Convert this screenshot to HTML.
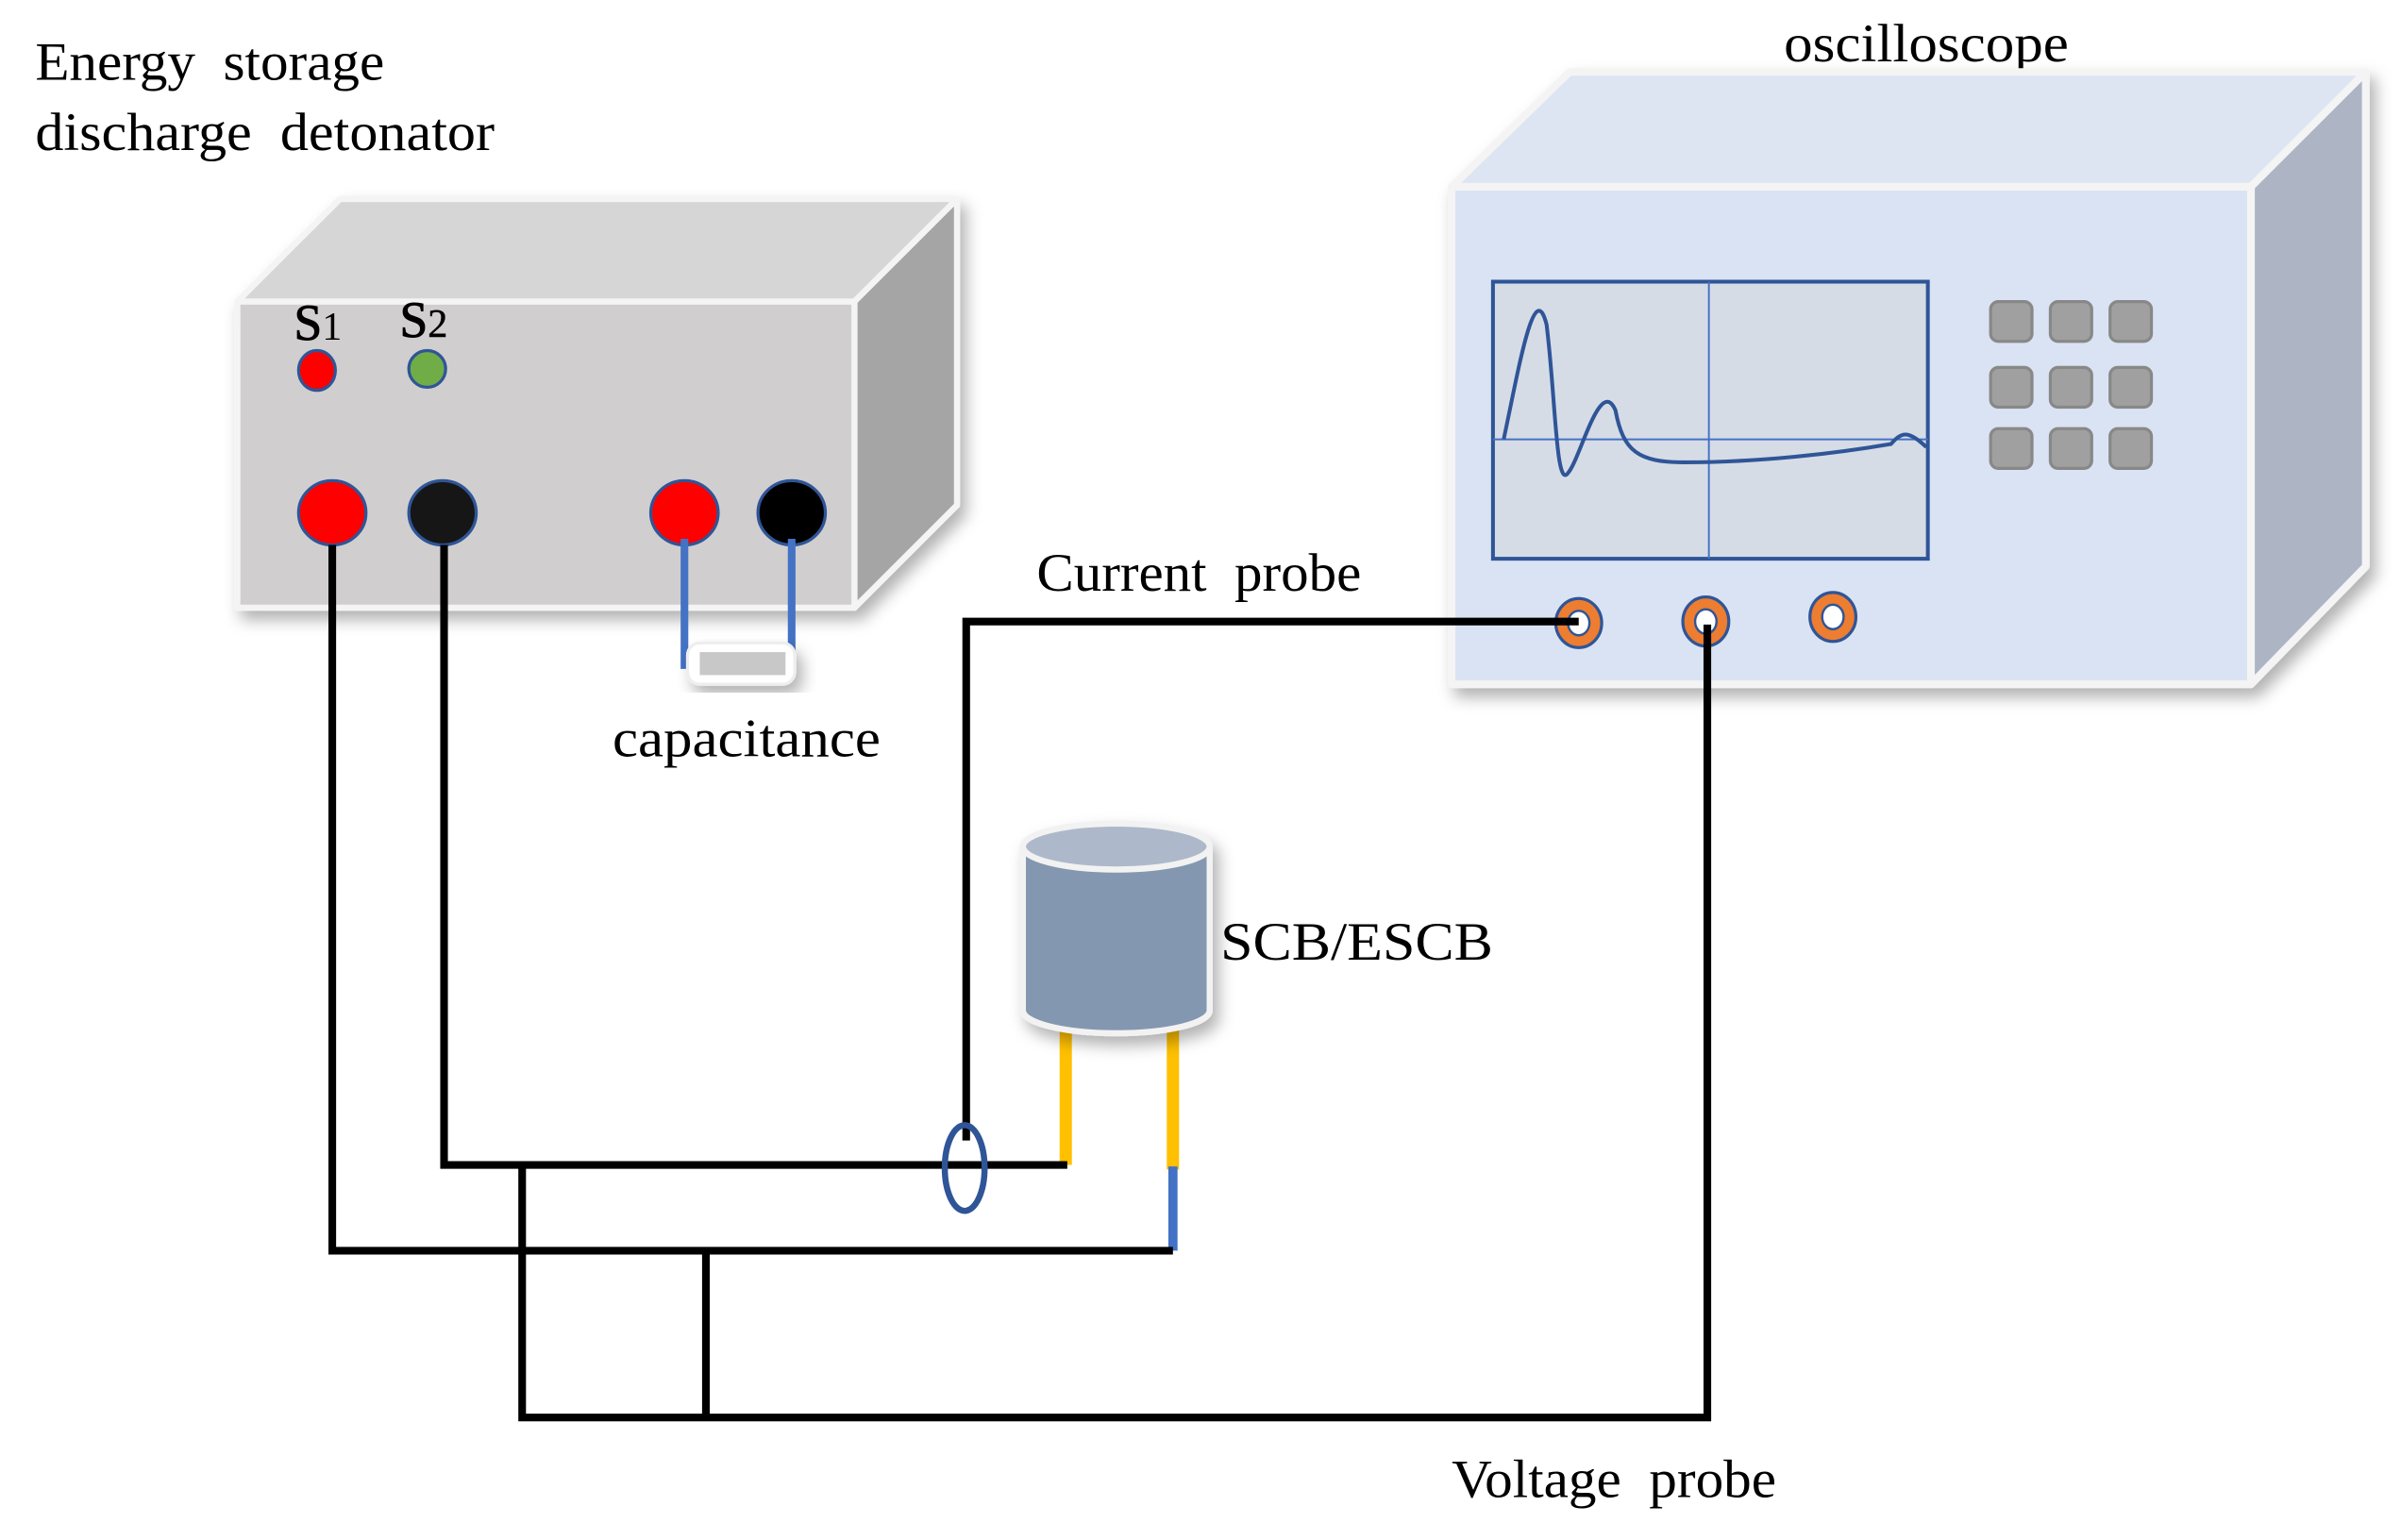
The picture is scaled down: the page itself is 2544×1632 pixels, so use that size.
<!DOCTYPE html>
<html><head><meta charset="utf-8"><style>html,body{margin:0;padding:0;background:#fff}svg{display:block}</style></head>
<body>
<svg width="2544" height="1632" viewBox="0 0 1568 1006" preserveAspectRatio="none" xmlns="http://www.w3.org/2000/svg" font-family="Liberation Serif, serif">
<defs><filter id="sh" x="-10%" y="-10%" width="130%" height="130%"><feDropShadow dx="4" dy="6" stdDeviation="5" flood-color="#000" flood-opacity="0.3"/></filter></defs>
<rect width="1568" height="1006" fill="#fff"/>
<g font-size="35" fill="#000">
<text x="23" y="52" textLength="228" lengthAdjust="spacingAndGlyphs">Energy&#160;&#160;storage</text>
<text x="23" y="98" textLength="300" lengthAdjust="spacingAndGlyphs">discharge&#160;&#160;detonator</text>
<text x="1165" y="40" textLength="186" lengthAdjust="spacingAndGlyphs">oscilloscope</text>
<text x="677" y="386" textLength="212" lengthAdjust="spacingAndGlyphs">Current&#160;&#160;probe</text>
<text x="400" y="494" textLength="175" lengthAdjust="spacingAndGlyphs">capacitance</text>
<text x="797" y="627" textLength="178" lengthAdjust="spacingAndGlyphs">SCB/ESCB</text>
<text x="948" y="978" textLength="212" lengthAdjust="spacingAndGlyphs">Voltage&#160;&#160;probe</text>
</g>
<!-- detonator -->
<g filter="url(#sh)" stroke="#f4f4f4" stroke-width="4" stroke-linejoin="round">
<polygon points="155,197 222,130 625,130 558,197" fill="#d6d6d6"/>
<polygon points="558,197 625,130 625,330 558,397" fill="#a5a5a5"/>
<rect x="155" y="197" width="403" height="200" fill="#d0cecf"/>
</g>
<text x="192" y="222" font-size="33" stroke="#000" stroke-width="0.6">S<tspan font-size="26" stroke-width="0">1</tspan></text>
<text x="261" y="220" font-size="33" stroke="#000" stroke-width="0.6">S<tspan font-size="26" stroke-width="0.3">2</tspan></text>
<ellipse cx="207" cy="242" rx="12" ry="13" fill="#f00" stroke="#2f5597" stroke-width="2"/>
<ellipse cx="279" cy="241" rx="12" ry="12" fill="#70ad47" stroke="#2f5597" stroke-width="2"/>
<ellipse cx="217" cy="335" rx="22" ry="21" fill="#f00" stroke="#2f5597" stroke-width="2"/>
<ellipse cx="289" cy="335" rx="22" ry="21" fill="#161616" stroke="#2f5597" stroke-width="2"/>
<ellipse cx="447" cy="335" rx="22" ry="21" fill="#f00" stroke="#2f5597" stroke-width="2"/>
<ellipse cx="517" cy="335" rx="22" ry="21" fill="#000" stroke="#2f5597" stroke-width="2"/>
<g stroke="#4472c4" stroke-width="5" fill="none">
<line x1="447" y1="352" x2="447" y2="437"/><line x1="517" y1="352" x2="517" y2="428"/>
</g>
<rect x="449" y="420" width="70" height="27" rx="8" fill="#fff" stroke="#eee" stroke-width="2" filter="url(#sh)"/>
<rect x="457" y="426" width="56" height="15" fill="#c8c8c8"/>
<!-- oscilloscope -->
<g filter="url(#sh)" stroke="#f4f4f4" stroke-width="5" stroke-linejoin="round">
<polygon points="948,122 1025,47 1545,47 1470,122" fill="#dde5f3"/>
<polygon points="1470,122 1545,47 1545,370 1470,447" fill="#adb5c5"/>
<rect x="948" y="122" width="522" height="325" fill="#dae3f3"/>
</g>
<rect x="975" y="184" width="284" height="181" fill="#d6dce6" stroke="#2f5597" stroke-width="2.5"/>
<line x1="1116" y1="184" x2="1116" y2="365" stroke="#4472c4" stroke-width="1.2"/>
<line x1="975" y1="287" x2="1259" y2="287" stroke="#4472c4" stroke-width="1.2"/>
<path d="M982,287 C992,240 1002,180 1010,212 C1016,260 1016,320 1024,309 C1032,300 1045,245 1055,268 C1060,295 1070,302 1100,302 C1150,302 1200,296 1235,290 C1242,282 1246,281 1258,292" fill="none" stroke="#2f5597" stroke-width="2.5"/>
<g fill="#a0a0a0" stroke="#888" stroke-width="2">
<rect x="1300" y="197" width="27" height="26" rx="5"/><rect x="1339" y="197" width="27" height="26" rx="5"/><rect x="1378" y="197" width="27" height="26" rx="5"/>
<rect x="1300" y="240" width="27" height="26" rx="5"/><rect x="1339" y="240" width="27" height="26" rx="5"/><rect x="1378" y="240" width="27" height="26" rx="5"/>
<rect x="1300" y="280" width="27" height="26" rx="5"/><rect x="1339" y="280" width="27" height="26" rx="5"/><rect x="1378" y="280" width="27" height="26" rx="5"/>
</g>
<g fill="#ed7d31" stroke="#2f5597" stroke-width="2">
<ellipse cx="1031" cy="407" rx="15" ry="16"/><ellipse cx="1114" cy="406" rx="15" ry="16"/><ellipse cx="1197" cy="403" rx="15" ry="16"/>
</g>
<g fill="#fff" stroke="#2f5597" stroke-width="1.5">
<ellipse cx="1031" cy="407" rx="7" ry="8"/><ellipse cx="1114" cy="406" rx="7" ry="8"/><ellipse cx="1197" cy="403" rx="7" ry="8"/>
</g>
<!-- SCB -->
<g stroke="#ffc000" stroke-width="8"><line x1="696" y1="672" x2="696" y2="761"/><line x1="766" y1="672" x2="766" y2="764"/></g>
<line x1="766" y1="762" x2="766" y2="817" stroke="#4472c4" stroke-width="6"/>
<g filter="url(#sh)">
<path d="M668,553 L668,660 A61,15 0 0 0 790,660 L790,553 Z" fill="#8497b0" stroke="#f2f2f2" stroke-width="4"/>
<ellipse cx="729" cy="553" rx="61" ry="15" fill="#adb9ca" stroke="#f2f2f2" stroke-width="4"/>
</g>
<!-- wires -->
<g stroke="#000" stroke-width="5" fill="none" stroke-linejoin="miter">
<polyline points="217,356 217,817 766,817"/>
<polyline points="290,356 290,761 697,761"/>
<polyline points="341,761 341,926 1115,926 1115,408"/>
<line x1="461" y1="817" x2="461" y2="926"/>
<polyline points="631,745 631,406 1031,406"/>
</g>
<ellipse cx="630" cy="763" rx="13" ry="28" fill="none" stroke="#2f5597" stroke-width="4"/>
</svg>
</body></html>
